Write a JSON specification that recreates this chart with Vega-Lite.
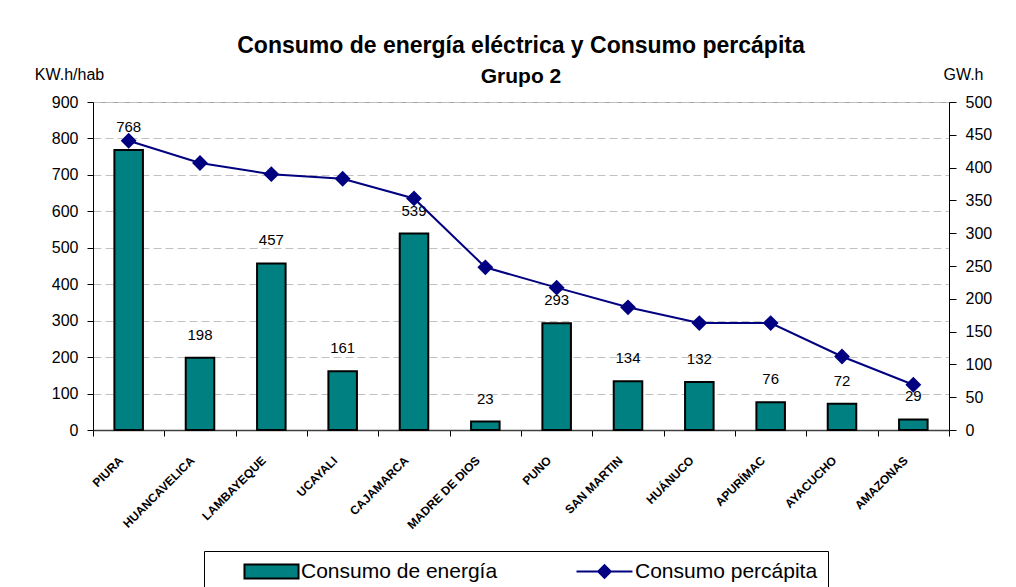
{
  "$schema": "https://vega.github.io/schema/vega-lite/v6.json",
  "width": 856,
  "height": 328,
  "autosize": {"type": "none"},
  "padding": {"left": 93, "top": 102, "right": 67, "bottom": 157},
  "background": "white",
  "title": {
    "text": "Consumo de energía eléctrica y Consumo percápita",
    "subtitle": "Grupo 2",
    "font": "Liberation Sans",
    "subtitleFont": "Liberation Sans",
    "fontSize": 23,
    "subtitleFontSize": 21,
    "fontWeight": "bold",
    "subtitleFontWeight": "bold",
    "color": "black",
    "subtitleColor": "black",
    "anchor": "middle",
    "offset": 16,
    "dy": 37,
    "subtitlePadding": 8
  },
  "config": {
    "font": "Liberation Sans",
    "view": {"stroke": "#a0a0a0", "strokeWidth": 1}
  },
  "data": {
    "values": [
      {"depto": "PIURA", "energia": 768, "percapita": 441},
      {"depto": "HUANCAVELICA", "energia": 198, "percapita": 407},
      {"depto": "LAMBAYEQUE", "energia": 457, "percapita": 390},
      {"depto": "UCAYALI", "energia": 161, "percapita": 383},
      {"depto": "CAJAMARCA", "energia": 539, "percapita": 353},
      {"depto": "MADRE DE DIOS", "energia": 23, "percapita": 248},
      {"depto": "PUNO", "energia": 293, "percapita": 217},
      {"depto": "SAN MARTIN", "energia": 134, "percapita": 187},
      {"depto": "HUÁNUCO", "energia": 132, "percapita": 163},
      {"depto": "APURÍMAC", "energia": 76, "percapita": 163},
      {"depto": "AYACUCHO", "energia": 72, "percapita": 112},
      {"depto": "AMAZONAS", "energia": 29, "percapita": 69}
    ]
  },
  "encoding": {
    "x": {
      "field": "depto",
      "type": "nominal",
      "sort": null,
      "scale": {"paddingInner": 0, "paddingOuter": 0},
      "axis": {
        "title": null,
        "tickBand": "extent",
        "labelOffset": -8,
        "labelAngle": -45,
        "labelAlign": "right",
        "labelBaseline": "middle",
        "labelFontSize": 12,
        "labelFontWeight": "bold",
        "labelColor": "black",
        "labelPadding": 22,
        "labelOverlap": false,
        "tickSize": 6,
        "tickColor": "black",
        "domainColor": "#404040",
        "domainWidth": 1.5,
        "grid": false
      }
    }
  },
  "layer": [
    {
      "encoding": {
        "y": {
          "field": "energia",
          "type": "quantitative",
          "scale": {"domain": [0, 900], "nice": false},
          "axis": {
            "orient": "left",
            "values": [0, 100, 200, 300, 400, 500, 600, 700, 800, 900],
            "labelOverlap": false,
            "title": "KW.h/hab",
            "titleAngle": 0,
            "titleAlign": "center",
            "titleBaseline": "middle",
            "titleX": -24,
            "titleY": -28,
            "titleFontSize": 16,
            "titleFontWeight": "normal",
            "titleColor": "black",
            "labelFontSize": 16,
            "labelColor": "black",
            "labelPadding": 9,
            "tickSize": 6,
            "tickColor": "black",
            "domainColor": "black",
            "grid": true,
            "gridColor": "#c0c0c0",
            "gridDash": [8, 4],
            "gridWidth": 1
          }
        }
      },
      "layer": [
        {
          "mark": {"type": "bar", "width": {"band": 0.4}, "stroke": "black", "strokeWidth": 2},
          "encoding": {
            "fill": {
              "datum": "Consumo de energía",
              "type": "nominal",
              "scale": {"domain": ["Consumo de energía"], "range": ["#008080"]},
              "legend": {
                "orient": "none",
                "legendX": 138,
                "legendY": 449,
                "title": null,
                "padding": 10,
                "symbolType": "M-3.86,-1H3.86V1H-3.86Z",
                "symbolSize": 196,
                "symbolOffset": 20,
                "symbolStrokeColor": "black",
                "symbolStrokeWidth": 2,
                "symbolFillColor": "#008080",
                "labelOffset": 19,
                "labelFontSize": 21,
                "labelColor": "black",
                "labelFont": "Liberation Sans",
                "labelLimit": 400
              }
            }
          }
        },
        {
          "mark": {"type": "text", "baseline": "alphabetic", "dy": -18, "fontSize": 15, "color": "black"},
          "encoding": {
            "text": {"field": "energia", "type": "quantitative"}
          }
        }
      ]
    },
    {
      "mark": {
        "type": "line",
        "strokeWidth": 2,
        "point": {"filled": true, "shape": "diamond", "size": 170, "fill": "#000080", "color": "#000080"}
      },
      "encoding": {
        "y": {
          "field": "percapita",
          "type": "quantitative",
          "scale": {"domain": [0, 500], "nice": false},
          "axis": {
            "orient": "right",
            "values": [0, 50, 100, 150, 200, 250, 300, 350, 400, 450, 500],
            "labelOverlap": false,
            "title": "GW.h",
            "titleAngle": 0,
            "titleAlign": "center",
            "titleBaseline": "middle",
            "titleX": 14,
            "titleY": -28,
            "titleFontSize": 16,
            "titleFontWeight": "normal",
            "titleColor": "black",
            "labelFontSize": 16,
            "labelColor": "black",
            "labelPadding": 9,
            "tickSize": 7,
            "tickColor": "black",
            "domainColor": "black",
            "grid": false
          }
        },
        "stroke": {
          "datum": "Consumo percápita",
          "type": "nominal",
          "scale": {"domain": ["Consumo percápita"], "range": ["#000080"]},
          "legend": {
            "orient": "none",
            "legendX": 111,
            "legendY": 449,
            "title": null,
            "strokeColor": "black",
            "padding": 10,
            "symbolType": "M-4,0H4M0,-0.9L0.9,0L0,0.9L-0.9,0Z",
            "symbolSize": 196,
            "symbolOffset": 380,
            "symbolStrokeColor": "#000080",
            "symbolStrokeWidth": 2,
            "symbolFillColor": "#000080",
            "labelOffset": 20,
            "labelFontSize": 21,
            "labelColor": "black",
            "labelFont": "Liberation Sans",
            "labelLimit": 400,
            "labelExpr": "datum.label + '\u00a0\u00a0\u00a0\u00a0'"
          }
        }
      }
    }
  ],
  "resolve": {"scale": {"y": "independent"}}
}
